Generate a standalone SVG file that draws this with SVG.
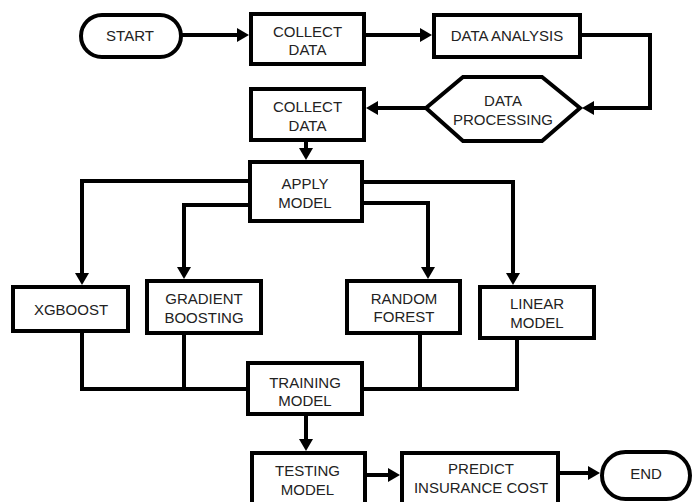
<svg xmlns="http://www.w3.org/2000/svg" width="693" height="502" viewBox="0 0 693 502">
<style>
.box{fill:#fff;stroke:#000;stroke-width:4}
.ln{fill:none;stroke:#000;stroke-width:4}
.ar{marker-end:url(#ah)}
text{font-family:"Liberation Sans",Arial,sans-serif;font-size:15px;fill:#222;text-anchor:middle}
</style>
<defs>
<marker id="ah" markerUnits="userSpaceOnUse" markerWidth="14" markerHeight="14" refX="8" refY="7" orient="auto">
<path d="M0,0 L12,7 L0,14 z" fill="#000"/>
</marker>
</defs>
<rect width="693" height="502" fill="#fff"/>
<g id="connectors">
<path class="ln ar" d="M181,35 H245"/>
<path class="ln ar" d="M364,35 H428"/>
<path class="ln ar" d="M580,35 H650 V108 H586"/>
<path class="ln ar" d="M426,108 H370"/>
<path class="ln ar" d="M306,140 V156"/>
<path class="ln ar" d="M250,181 H82 V281"/>
<path class="ln ar" d="M250,205 H184 V275"/>
<path class="ln ar" d="M362,182 H513 V281"/>
<path class="ln ar" d="M362,203 H428 V275"/>
<path class="ln" d="M82,331 V389 H248"/>
<path class="ln" d="M184,333 V389"/>
<path class="ln" d="M420,333 V389"/>
<path class="ln" d="M517,338 V389 H362"/>
<path class="ln ar" d="M306,414 V447"/>
<path class="ln ar" d="M365,475 H396"/>
<path class="ln ar" d="M558,473 H596"/>
</g>
<g id="start"><rect class="box" x="81" y="15" width="100" height="42" rx="21"/><text x="130" y="40.5">START</text></g>
<g id="collect1"><rect class="box" x="251" y="14" width="113" height="50"/><text x="307.5" y="36.5">COLLECT</text><text x="307.5" y="54.5">DATA</text></g>
<g id="analysis"><rect class="box" x="434" y="15" width="146" height="42"/><text x="507" y="41">DATA ANALYSIS</text></g>
<g id="processing"><polygon class="box" points="426,108 463,77 542,77 580,108 542,141 463,141"/><text x="503" y="105.5">DATA</text><text x="503" y="124.5">PROCESSING</text></g>
<g id="collect2"><rect class="box" x="251" y="89" width="113" height="51"/><text x="307.5" y="111.5">COLLECT</text><text x="307.5" y="130.5">DATA</text></g>
<g id="apply"><rect class="box" x="250" y="162" width="112" height="59"/><text x="305" y="188.5">APPLY</text><text x="305" y="207.5">MODEL</text></g>
<g id="xgboost"><rect class="box" x="13" y="287" width="115" height="44"/><text x="71" y="314.5">XGBOOST</text></g>
<g id="gradient"><rect class="box" x="147" y="281" width="114" height="52"/><text x="204" y="303.5">GRADIENT</text><text x="204" y="322.5">BOOSTING</text></g>
<g id="random"><rect class="box" x="347" y="281" width="113" height="52"/><text x="404" y="303.5">RANDOM</text><text x="404" y="321.5">FOREST</text></g>
<g id="linear"><rect class="box" x="480" y="287" width="114" height="51"/><text x="537" y="308.5">LINEAR</text><text x="537" y="327.5">MODEL</text></g>
<g id="training"><rect class="box" x="248" y="363" width="114" height="51"/><text x="305" y="387.5">TRAINING</text><text x="305" y="405.5">MODEL</text></g>
<g id="testing"><rect class="box" x="252" y="453" width="113" height="56"/><text x="307.5" y="475.5">TESTING</text><text x="307.5" y="494.5">MODEL</text></g>
<g id="predict"><rect class="box" x="402" y="453" width="156" height="56"/><text x="481" y="473.5">PREDICT</text><text x="481" y="492.5">INSURANCE COST</text></g>
<g id="end"><rect class="box" x="602" y="452" width="88" height="47" rx="23.5"/><text x="646" y="478.5">END</text></g>
</svg>
